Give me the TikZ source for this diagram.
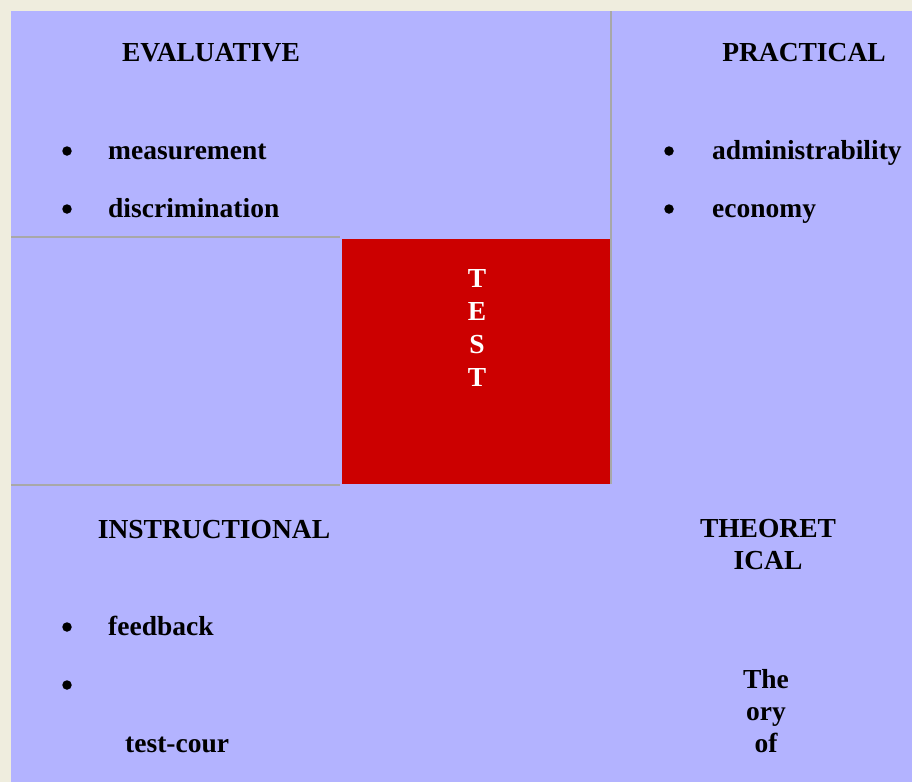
\documentclass[tikz,border=0pt]{standalone}
\usepackage{fontspec}
\setmainfont{Liberation Serif}
\definecolor{cream}{RGB}{239,237,222}
\definecolor{panel}{RGB}{179,179,255}
\definecolor{rule}{RGB}{168,168,168}
\definecolor{testred}{RGB}{204,0,0}
\begin{document}
\begin{tikzpicture}[x=1pt,y=-1pt,
  lbl/.style={inner sep=0pt, font=\fontsize{27.5}{32}\selectfont\bfseries, text=black},
  head/.style={lbl, anchor=base},
  item/.style={lbl, anchor=base west},
  dot/.style={circle, fill=black, inner sep=0pt, minimum size=9.5pt},
  stack/.style={lbl, align=center, anchor=north},
  sep/.style={draw=rule, line width=2pt}]
\useasboundingbox (0,0) rectangle (912,782);
\fill[cream] (0,0) rectangle (912,782);
\fill[panel] (11,11) rectangle (912,782);
% red centre box
\node[fill=testred, minimum width=269pt, minimum height=245pt, inner sep=0pt, anchor=north west] (box) at (342,239) {};
\node[lbl, text=white, align=center, font=\fontsize{27.5}{33}\selectfont\bfseries] (test) at (477,328) {T\\E\\S\\T};
% separators
\coordinate (vtop) at (611,11);
\coordinate (vbot) at (611,484);
\draw[sep] (vtop) -- (vbot);
\coordinate (h1a) at (11,237);
\coordinate (h1b) at (340,237);
\draw[sep] (h1a) -- (h1b);
\coordinate (h2a) at (11,485);
\coordinate (h2b) at (340,485);
\draw[sep] (h2a) -- (h2b);
% evaluative
\node[head] (eval) at (211,61) {EVALUATIVE};
\node[dot] (d1) at (67,151) {};
\node[item] (meas) at (108,159) {measurement};
\node[dot] (d2) at (67,209) {};
\node[item] (disc) at (108,217) {discrimination};
% practical
\node[head] (prac) at (804,61) {PRACTICAL};
\node[dot] (d3) at (669,151) {};
\node[item] (admin) at (712,159) {administrability};
\node[dot] (d4) at (669,209) {};
\node[item] (econ) at (712,217) {economy};
% instructional
\node[head] (instr) at (214,538) {INSTRUCTIONAL};
\node[dot] (d5) at (67,627) {};
\node[item] (feed) at (108,635) {feedback};
\node[dot] (d6) at (67,685) {};
\node[item] (tc) at (125,752) {test-cour};
% theoretical
\node[stack] (theo) at (768,519) {THEORET\\ICAL};
\node[stack] (theory) at (766,669) {The\\ory\\of};
\end{tikzpicture}
\end{document}
